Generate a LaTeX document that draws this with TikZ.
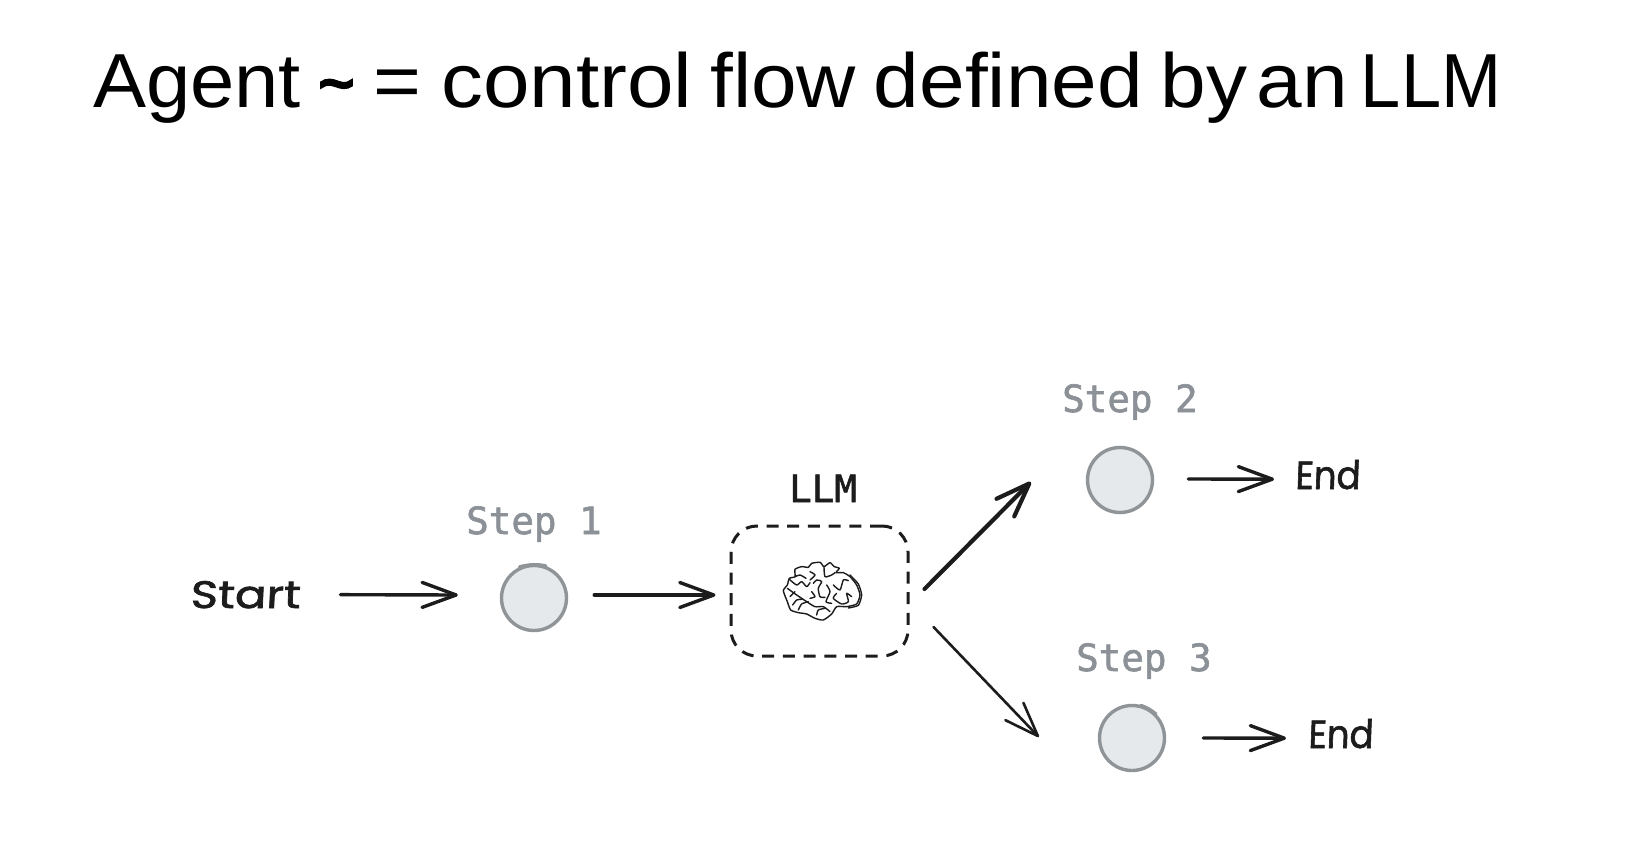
\documentclass[tikz,border=0pt]{standalone}
\usepackage{fontspec}
\usepackage{graphicx}
\setmainfont{Liberation Sans}
\newfontfamily\titlef[FakeStretch=1.07,WordSpace=0.78]{Liberation Sans}
\newfontfamily\tildef[FakeBold=5]{Liberation Sans}
\newfontfamily\monof[FakeBold=1.6]{DejaVu Sans Mono}
\newfontfamily\handf[FakeBold=1.6,FakeSlant=0.04]{Poppins}
\usetikzlibrary{arrows.meta}
\definecolor{inkc}{HTML}{1C1C1C}
\definecolor{stepc}{HTML}{8C9198}
\definecolor{fillc}{HTML}{E6E9EC}
\definecolor{ringc}{HTML}{8F9499}
\tikzset{
  stepdot/.style={circle,draw=ringc,fill=fillc,line width=3.4pt,minimum size=65pt,inner sep=0pt},
  steplabel/.style={anchor=base west,inner sep=0pt,text=stepc,font=\monof\fontsize{37.5pt}{37.5pt}\selectfont},
  llmlabel/.style={anchor=base west,inner sep=0pt,text=inkc,font=\monof\fontsize{37.5pt}{37.5pt}\selectfont},
  handlabel/.style={anchor=base west,inner sep=0pt,text=inkc},
  flow/.style={draw=inkc,line width=3.4pt,line cap=round,-{Straight Barb[length=34pt,width=25pt,round]}},
  llmbox/.style={draw=inkc,rounded corners=26pt,dash pattern=on 12pt off 8.7pt,line width=3pt,minimum width=177pt,minimum height=130pt,inner sep=0pt,line cap=butt},
  brainline/.style={draw=inkc,line width=1.4pt,line join=round,line cap=round},
  ringmark/.style={draw=ringc,line width=3.6pt,line cap=round}
}
\begin{document}
\begin{tikzpicture}[x=1pt,y=-1pt]
\useasboundingbox (0,0) rectangle (1652,848);
\fill[white] (0,0) rectangle (1652,848);
\node[anchor=base west,inner sep=0pt,text=black] (title) at (93,108)
  {\resizebox{1408pt}{!}{\titlef\fontsize{76pt}{76pt}\selectfont \scalebox{0.97}[1]{Agent} \raisebox{4pt}{\tildef\fontsize{60pt}{60pt}\selectfont\textasciitilde}\hspace{2pt} =\hspace{2pt} \scalebox{1.02}[1]{control} flow defined by\hspace{-8pt} an\hspace{-5pt} \scalebox{0.88}[1]{LLM}}};
\node[handlabel] (start) at (190,608) {\resizebox{110pt}{27pt}{\handf Start}};
\node[stepdot] (s1) at (534,598) {};
\node[steplabel] (s1label) at (466,534) {Step 1};
\node[llmbox] (box) at (819.5,591) {};
\node[llmlabel] (llmlabel) at (789,502) {LLM};
\node[stepdot] (s2) at (1120,480) {};
\node[steplabel] (s2label) at (1062,412) {Step 2};
\node[stepdot] (s3) at (1132,738) {};
\node[steplabel] (s3label) at (1076,671) {Step 3};
\node[handlabel] (end2) at (1295,489) {\resizebox{65pt}{29pt}{\handf End}};
\node[handlabel] (end3) at (1308,748) {\resizebox{65pt}{29pt}{\handf End}};
\draw[ringmark] (s1.115) to[bend left=12] (s1.70);
\draw[ringmark,line width=2.6pt] (s3.75) to[bend left=10] (s3.45);
\draw[flow] ([xshift=40pt]start.east) -- ([xshift=-42pt,yshift=3pt]s1.west);
\draw[flow] ([xshift=26pt,yshift=3pt]s1.east) -- ([xshift=-14pt,yshift=-4pt]box.west);
\draw[flow,line width=4.2pt] ([xshift=15pt,yshift=2pt]box.east) -- ([xshift=-55pt,yshift=-2pt]s2.west);
\draw[flow,line width=2.6pt] ([xshift=24pt,yshift=-36pt]box.east) -- ([xshift=-59pt,yshift=1pt]s3.west);
\draw[flow] ([xshift=34pt,yshift=1pt]s2.east) -- ([xshift=-21pt,yshift=-4.5pt]end2.west);
\draw[flow] ([xshift=37pt]s3.east) -- ([xshift=-22pt,yshift=-4.5pt]end3.west);
\begin{scope}[shift={(700,460)},x=0.3333pt,y=-0.3333pt]
\draw[brainline,fill=white] plot[smooth cycle,tension=0.35] coordinates {(250,392)(262,375)(268,355)(285,350)(285,328)(305,320)(325,322)(335,310)(360,307)(372,320)(390,308)(403,320)(418,325)(408,338)(430,338)(450,350)(470,375)(480,405)(470,432)(440,440)(410,440)(395,462)(370,480)(345,475)(320,462)(295,458)(272,450)(262,425)};
\draw[brainline] plot[smooth,tension=0.35] coordinates {(450,345)(475,372)(485,405)(475,436)(445,444)};
\draw[brainline] plot[smooth,tension=0.4] coordinates {(268,358)(290,375)(305,365)(320,380)(330,368)};
\draw[brainline] plot[smooth,tension=0.4] coordinates {(340,370)(350,360)(365,365)(355,385)(360,410)(375,412)};
\draw[brainline] plot[smooth,tension=0.4] coordinates {(372,320)(375,350)(395,345)(405,338)};
\draw[brainline] plot[smooth,tension=0.4] coordinates {(400,375)(420,390)(430,360)(445,362)};
\draw[brainline] plot[smooth,tension=0.4] coordinates {(410,400)(400,415)(425,432)(445,425)(440,400)(455,410)};
\draw[brainline] plot[smooth,tension=0.4] coordinates {(262,385)(290,405)(320,425)(345,440)(370,440)(390,455)};
\draw[brainline] plot[smooth,tension=0.4] coordinates {(270,410)(285,395)};
\draw[brainline] plot[smooth,tension=0.4] coordinates {(278,435)(290,420)(305,418)};
\draw[brainline] plot[smooth,tension=0.4] coordinates {(295,450)(305,432)(325,425)};
\draw[brainline] plot[smooth,tension=0.4] coordinates {(350,465)(355,450)(375,445)};
\draw[brainline] plot[smooth,tension=0.4] coordinates {(330,335)(345,345)(330,360)};
\draw[brainline] plot[smooth,tension=0.4] coordinates {(285,350)(300,345)(318,355)};
\draw[brainline] plot[smooth,tension=0.4] coordinates {(335,395)(345,410)(330,415)};
\draw[brainline] plot[smooth,tension=0.4] coordinates {(380,375)(390,395)(378,425)(395,430)};
\end{scope}
\end{tikzpicture}
\end{document}
